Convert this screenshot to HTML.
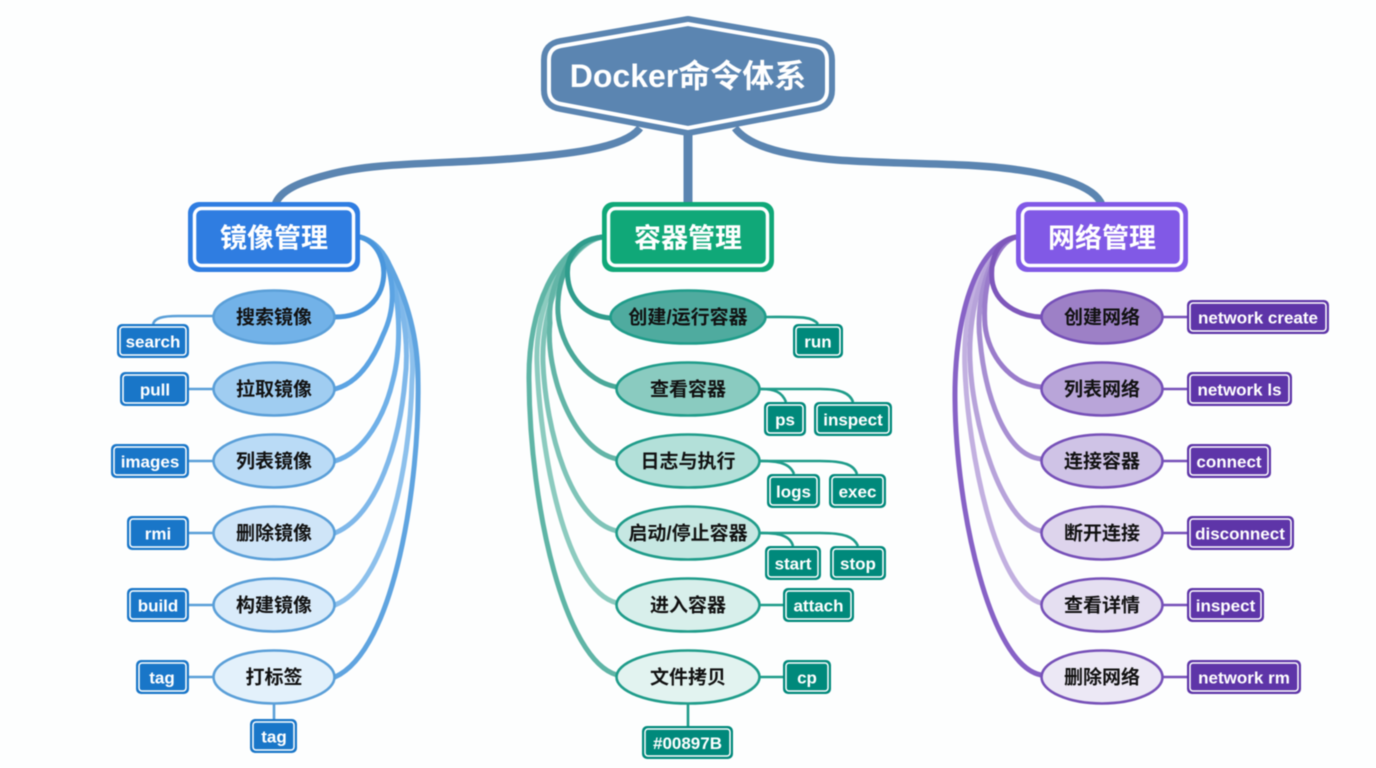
<!DOCTYPE html>
<html lang="zh">
<head>
<meta charset="utf-8">
<title>Docker命令体系</title>
<style>
html,body{margin:0;padding:0;background:#fdfefe;}
svg{display:block;filter:blur(0.4px);}
text{font-family:"Liberation Sans","Noto Sans CJK SC",sans-serif;font-weight:700;text-anchor:middle;dominant-baseline:central;}
.c{fill:#fff;font-size:17px;transform:translateY(1px);}
.e{fill:#111;font-size:19px;transform:translateY(1px);}
.h{fill:#fff;font-size:27px;transform:translateY(1.5px);}
.b{fill:none;stroke-linecap:round;stroke-width:5;}
.s{fill:none;stroke-width:2.6;}
.ring{fill:none;stroke:#fff;stroke-width:1.5;}
</style>
</head>
<body>
<svg width="1376" height="768" viewBox="0 0 1376 768" xmlns="http://www.w3.org/2000/svg">
<rect width="1376" height="768" fill="#fdfefe"/>

<!-- root connectors -->
<g fill="none" stroke="#5b85b1" stroke-width="7.5">
<path d="M640,128 C625,148 570,155 493,160 C430,164 370,163 327,175 C300,182 280,190 275,205"/>
<path d="M735,128 C750,148 790,156 837,160 C890,164 960,163 1003,168 C1050,173 1095,185 1102,205"/>
<path d="M688,130 V205" stroke-width="9"/>
</g>

<!-- blue branches -->
<g>
<path class="b" stroke="#8cc0ec" d="M360,237 C372,240 382,250 388,262 C405,300 415,340 412,380 C410,470 385,585 335,605"/>
<path class="b" stroke="#7fb8ea" d="M360,237 C372,240 382,250 388,262 C402,300 410,340 405,380 C400,440 378,515 335,533"/>
<path class="b" stroke="#6fb0e8" d="M360,237 C372,240 382,250 388,262 C400,295 402,345 393,380 C385,415 365,452 335,461"/>
<path class="b" stroke="#5ba3e3" d="M360,237 C372,240 380,248 385,258 C395,285 395,310 383,335 C373,360 358,383 335,389"/>
<path class="b" stroke="#5fa4e0" d="M360,237 C372,240 382,250 388,262 C408,300 418,340 418,380 C420,480 395,650 335,677"/>
<path class="b" stroke="#4a96dc" d="M360,237 C395,247 395,317 335,317"/>
</g>
<!-- green branches -->
<g>
<path class="b" stroke="#8ccbbf" d="M602,237 C560,245 535,310 537,363 C540,450 565,590 617,603"/>
<path class="b" stroke="#7fc4b8" d="M602,237 C565,245 541,310 543,363 C546,430 570,520 617,531"/>
<path class="b" stroke="#63b5a7" d="M602,237 C570,242 547,285 550,323 C545,370 572,450 617,459"/>
<path class="b" stroke="#4aa899" d="M602,237 C575,240 556,275 558,313 C560,345 585,382 617,387"/>
<path class="b" stroke="#5fb5a6" d="M602,237 C555,245 528,310 529,380 C530,510 565,660 617,675"/>
<path class="b" stroke="#2f9c8c" d="M602,237 C575,240 565,258 568,280 C571,302 588,316 610,318"/>
</g>
<!-- purple branches -->
<g>
<path class="b" stroke="#c2b0e0" d="M1016,237 C980,245 962,310 965,370 C968,450 995,590 1041,603"/>
<path class="b" stroke="#b7a3da" d="M1016,237 C985,245 968,310 970,360 C972,420 1000,522 1041,531"/>
<path class="b" stroke="#a78fd2" d="M1016,237 C990,245 975,300 980,340 C985,395 1005,455 1041,459"/>
<path class="b" stroke="#9a7ccb" d="M1016,237 C995,242 982,285 985,325 C988,355 1010,384 1041,387"/>
<path class="b" stroke="#8762c6" d="M1016,237 C975,245 954,320 955,400 C956,510 990,665 1041,675"/>
<path class="b" stroke="#7e57bb" d="M1016,237 C998,240 990,258 992,280 C995,303 1018,316 1041,317"/>
</g>

<!-- root -->
<path d="M688,24 L815,46 Q827,48 827,60 V90 Q827,102 815,104 L688,128 L561,104 Q549,102 549,90 V60 Q549,48 561,46 Z" fill="#5b85b1" stroke="#5b85b1" stroke-width="16" stroke-linejoin="round"/>
<path d="M688,24 L815,46 Q827,48 827,60 V90 Q827,102 815,104 L688,128 L561,104 Q549,102 549,90 V60 Q549,48 561,46 Z" fill="#5b85b1" stroke="#fff" stroke-width="4" stroke-linejoin="round"/>
<text x="688" y="76" fill="#fff" style="font-size:32px">Docker命令体系</text>

<!-- category boxes -->
<rect x="188" y="202" width="172" height="70" rx="11" fill="#2f7de1"/>
<rect x="194.5" y="208.5" width="159" height="57" rx="7" fill="#2f7de1" stroke="#fff" stroke-width="3.5"/>
<text class="h" x="274" y="237">镜像管理</text>

<rect x="602" y="202" width="172" height="70" rx="11" fill="#10a878"/>
<rect x="608.5" y="208.5" width="159" height="57" rx="7" fill="#10a878" stroke="#fff" stroke-width="3.5"/>
<text class="h" x="688" y="237">容器管理</text>

<rect x="1016" y="202" width="172" height="70" rx="11" fill="#8159e6"/>
<rect x="1022.5" y="208.5" width="159" height="57" rx="7" fill="#8159e6" stroke="#fff" stroke-width="3.5"/>
<text class="h" x="1102" y="237">网络管理</text>

<!-- sub connectors -->
<g stroke="#5a9fd8">
<path class="s" d="M213,316 H178 C162,316 155,318 153,324"/>
<path class="s" d="M189,389 H213"/>
<path class="s" d="M189,461 H213"/>
<path class="s" d="M189,533 H213"/>
<path class="s" d="M189,605 H213"/>
<path class="s" d="M189,677 H213"/>
<path class="s" d="M274,704 V719"/>
</g>
<g stroke="#1f9c8a">
<path class="s" d="M766,317 C800,317 812,316 818,324"/>
<path class="s" d="M760,389 C775,389 782,392 786,402"/>
<path class="s" d="M760,389 H820 C840,389 850,393 853,402"/>
<path class="s" d="M760,461 C778,461 790,463 794,474"/>
<path class="s" d="M760,461 H820 C845,461 854,465 857,474"/>
<path class="s" d="M760,533 C778,533 790,535 793,546"/>
<path class="s" d="M760,533 H820 C845,533 854,537 858,546"/>
<path class="s" d="M760,605 H783"/>
<path class="s" d="M760,677 H783"/>
<path class="s" d="M688,704 V726"/>
</g>
<g stroke="#7650b8">
<path class="s" d="M1162,317 H1187"/>
<path class="s" d="M1162,389 H1187"/>
<path class="s" d="M1162,461 H1187"/>
<path class="s" d="M1162,533 H1187"/>
<path class="s" d="M1162,605 H1187"/>
<path class="s" d="M1162,677 H1187"/>
</g>

<!-- blue ellipses -->
<g stroke="#5a9fd8" stroke-width="2.6">
<ellipse cx="274" cy="317" rx="60.5" ry="26.5" fill="#72b2e8"/>
<ellipse cx="274" cy="389" rx="60.5" ry="26.5" fill="#a0cdf1"/>
<ellipse cx="274" cy="461" rx="60.5" ry="26.5" fill="#badbf6"/>
<ellipse cx="274" cy="533" rx="60.5" ry="26.5" fill="#cfe5f8"/>
<ellipse cx="274" cy="605" rx="60.5" ry="26.5" fill="#d9ebfa"/>
<ellipse cx="274" cy="677" rx="60.5" ry="26.5" fill="#e3f1fb"/>
</g>
<text class="e" x="274" y="317">搜索镜像</text>
<text class="e" x="274" y="389">拉取镜像</text>
<text class="e" x="274" y="461">列表镜像</text>
<text class="e" x="274" y="533">删除镜像</text>
<text class="e" x="274" y="605">构建镜像</text>
<text class="e" x="274" y="677">打标签</text>

<!-- green ellipses -->
<g stroke="#1f9c8a" stroke-width="2.6">
<ellipse cx="688" cy="317" rx="77.5" ry="26.5" fill="#4fab9f"/>
<ellipse cx="688" cy="389" rx="71.5" ry="26.5" fill="#8acbc0"/>
<ellipse cx="688" cy="461" rx="71.5" ry="26.5" fill="#b3e0d9"/>
<ellipse cx="688" cy="533" rx="71.5" ry="26.5" fill="#c6e7e2"/>
<ellipse cx="688" cy="605" rx="71.5" ry="26.5" fill="#d8efeb"/>
<ellipse cx="688" cy="677" rx="71.5" ry="26.5" fill="#e2f3f0"/>
</g>
<text class="e" x="688" y="317">创建/运行容器</text>
<text class="e" x="688" y="389">查看容器</text>
<text class="e" x="688" y="461">日志与执行</text>
<text class="e" x="688" y="533">启动/停止容器</text>
<text class="e" x="688" y="605">进入容器</text>
<text class="e" x="688" y="677">文件拷贝</text>

<!-- purple ellipses -->
<g stroke="#7650b8" stroke-width="2.6">
<ellipse cx="1102" cy="317" rx="60.5" ry="26.5" fill="#9d80c6"/>
<ellipse cx="1102" cy="389" rx="60.5" ry="26.5" fill="#b9a5d9"/>
<ellipse cx="1102" cy="461" rx="60.5" ry="26.5" fill="#cfc3e6"/>
<ellipse cx="1102" cy="533" rx="60.5" ry="26.5" fill="#ddd4ec"/>
<ellipse cx="1102" cy="605" rx="60.5" ry="26.5" fill="#e5dff1"/>
<ellipse cx="1102" cy="677" rx="60.5" ry="26.5" fill="#ece8f5"/>
</g>
<text class="e" x="1102" y="317">创建网络</text>
<text class="e" x="1102" y="389">列表网络</text>
<text class="e" x="1102" y="461">连接容器</text>
<text class="e" x="1102" y="533">断开连接</text>
<text class="e" x="1102" y="605">查看详情</text>
<text class="e" x="1102" y="677">删除网络</text>

<!-- blue commands -->
<g fill="#1976c8">
<rect x="117" y="324" width="72" height="34" rx="5"/>
<rect x="120" y="372" width="69" height="34" rx="5"/>
<rect x="111" y="444" width="78" height="34" rx="5"/>
<rect x="127" y="516" width="62" height="34" rx="5"/>
<rect x="127" y="588" width="62" height="34" rx="5"/>
<rect x="136" y="660" width="53" height="34" rx="5"/>
<rect x="250" y="719" width="47" height="34" rx="5"/>
</g>
<g>
<rect class="ring" x="120" y="327" width="66" height="28" rx="3"/>
<rect class="ring" x="123" y="375" width="63" height="28" rx="3"/>
<rect class="ring" x="114" y="447" width="72" height="28" rx="3"/>
<rect class="ring" x="130" y="519" width="56" height="28" rx="3"/>
<rect class="ring" x="130" y="591" width="56" height="28" rx="3"/>
<rect class="ring" x="139" y="663" width="47" height="28" rx="3"/>
<rect class="ring" x="253" y="722" width="41" height="28" rx="3"/>
</g>
<text class="c" x="153" y="341">search</text>
<text class="c" x="155" y="389">pull</text>
<text class="c" x="150" y="461">images</text>
<text class="c" x="158" y="533">rmi</text>
<text class="c" x="158" y="605">build</text>
<text class="c" x="162" y="677">tag</text>
<text class="c" x="274" y="736">tag</text>

<!-- green commands -->
<g fill="#00897b">
<rect x="793" y="324" width="50" height="34" rx="5"/>
<rect x="764" y="402" width="42" height="34" rx="5"/>
<rect x="814" y="402" width="78" height="34" rx="5"/>
<rect x="767" y="474" width="53" height="34" rx="5"/>
<rect x="829" y="474" width="57" height="34" rx="5"/>
<rect x="765" y="546" width="56" height="34" rx="5"/>
<rect x="830" y="546" width="56" height="34" rx="5"/>
<rect x="783" y="588" width="71" height="34" rx="5"/>
<rect x="783" y="660" width="48" height="34" rx="5"/>
<rect x="642" y="726" width="91" height="33" rx="5"/>
</g>
<g>
<rect class="ring" x="796" y="327" width="44" height="28" rx="3"/>
<rect class="ring" x="767" y="405" width="36" height="28" rx="3"/>
<rect class="ring" x="817" y="405" width="72" height="28" rx="3"/>
<rect class="ring" x="770" y="477" width="47" height="28" rx="3"/>
<rect class="ring" x="832" y="477" width="51" height="28" rx="3"/>
<rect class="ring" x="768" y="549" width="50" height="28" rx="3"/>
<rect class="ring" x="833" y="549" width="50" height="28" rx="3"/>
<rect class="ring" x="786" y="591" width="65" height="28" rx="3"/>
<rect class="ring" x="786" y="663" width="42" height="28" rx="3"/>
<rect class="ring" x="645" y="729" width="85" height="27" rx="3"/>
</g>
<text class="c" x="818" y="341">run</text>
<text class="c" x="785" y="419">ps</text>
<text class="c" x="853" y="419">inspect</text>
<text class="c" x="793.5" y="491">logs</text>
<text class="c" x="857.5" y="491">exec</text>
<text class="c" x="793" y="563">start</text>
<text class="c" x="858" y="563">stop</text>
<text class="c" x="818.5" y="605">attach</text>
<text class="c" x="807" y="677">cp</text>
<text class="c" x="687.5" y="742.5">#00897B</text>

<!-- purple commands -->
<g fill="#5e35a8">
<rect x="1187" y="300" width="142" height="34" rx="5"/>
<rect x="1187" y="372" width="105" height="34" rx="5"/>
<rect x="1187" y="444" width="84" height="34" rx="5"/>
<rect x="1187" y="516" width="107" height="34" rx="5"/>
<rect x="1187" y="588" width="77" height="34" rx="5"/>
<rect x="1187" y="660" width="114" height="34" rx="5"/>
</g>
<g>
<rect class="ring" x="1190" y="303" width="136" height="28" rx="3"/>
<rect class="ring" x="1190" y="375" width="99" height="28" rx="3"/>
<rect class="ring" x="1190" y="447" width="78" height="28" rx="3"/>
<rect class="ring" x="1190" y="519" width="101" height="28" rx="3"/>
<rect class="ring" x="1190" y="591" width="71" height="28" rx="3"/>
<rect class="ring" x="1190" y="663" width="108" height="28" rx="3"/>
</g>
<text class="c" x="1258" y="317">network create</text>
<text class="c" x="1239.5" y="389">network ls</text>
<text class="c" x="1229" y="461">connect</text>
<text class="c" x="1240" y="533">disconnect</text>
<text class="c" x="1225.5" y="605">inspect</text>
<text class="c" x="1244" y="677">network rm</text>
</svg>
</body>
</html>
